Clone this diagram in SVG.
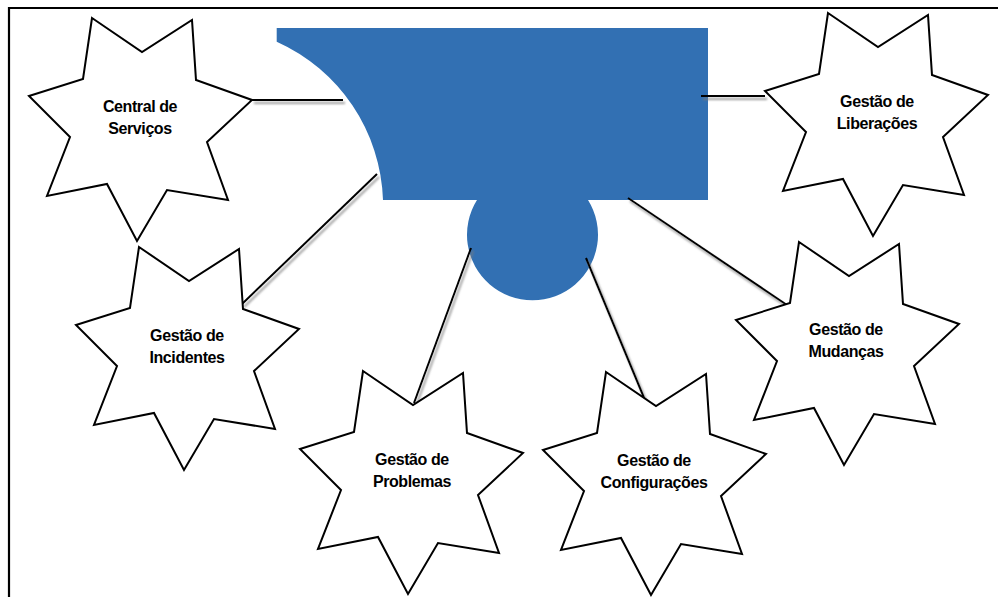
<svg xmlns="http://www.w3.org/2000/svg" xmlns:xlink="http://www.w3.org/1999/xlink" width="998" height="597" viewBox="0 0 998 597">
  <style>
    .star { fill: #ffffff; stroke: #000000; stroke-width: 2; stroke-linejoin: miter; }
    .lbl { font-family: "Liberation Sans", Arial, sans-serif; font-weight: bold; font-size: 16px; letter-spacing: -0.4px; text-anchor: middle; fill: #000000; }
    .conn { stroke: #000000; stroke-width: 2; fill: none; }
    .frame { stroke: #000000; stroke-width: 2.2; fill: none; }
  </style>
  <defs>
    <polygon id="star7" points="92,18 142,52 192,20 196,80 252,100 207,142 228,200 167,190 137,241 107,184 47,196 70,137 29,96 83,79"/>
    <filter id="shadow" x="-20%" y="-20%" width="140%" height="140%">
      <feDropShadow dx="2" dy="3" stdDeviation="1.3" flood-color="#7a7a7a" flood-opacity="0.75"/>
    </filter>
    <filter id="soft" x="-5%" y="-5%" width="110%" height="110%">
      <feGaussianBlur stdDeviation="0.6"/>
    </filter>
  </defs>

  <rect x="0" y="0" width="998" height="597" fill="#ffffff"/>
  <path class="frame" d="M9,597 L9,8 L998,8"/>

  <g id="hub">
    <path d="M276.7,28 L708,28 L708,200 L588,200 A65.5,65.5 0 1 1 477,200 L383,200 A180,180 0 0 0 276.7,41.7 Z" fill="#3070B3" filter="url(#soft)"/>
  </g>

  <g id="connectors" filter="url(#shadow)">
    <line class="conn" x1="252" y1="100" x2="343" y2="100"/>
    <line class="conn" x1="701" y1="96" x2="765" y2="96"/>
    <line class="conn" x1="377" y1="174" x2="242" y2="304"/>
    <line class="conn" x1="471" y1="248" x2="414" y2="403"/>
    <line class="conn" x1="586" y1="258" x2="647" y2="405"/>
    <line class="conn" x1="628" y1="198" x2="787" y2="305"/>
  </g>

  <g id="central-servicos">
    <use xlink:href="#star7" class="star"/>
    <text class="lbl" x="140" y="112">Central de</text>
    <text class="lbl" x="140" y="134">Serviços</text>
  </g>

  <g id="gestao-incidentes" transform="translate(47,229)">
    <use xlink:href="#star7" class="star"/>
    <text class="lbl" x="140" y="112">Gestão de</text>
    <text class="lbl" x="140" y="134">Incidentes</text>
  </g>

  <g id="gestao-liberacoes" transform="translate(736,-5)">
    <use xlink:href="#star7" class="star"/>
    <text class="lbl" x="141" y="112">Gestão de</text>
    <text class="lbl" x="141" y="134">Liberações</text>
  </g>

  <g id="gestao-mudancas" transform="translate(707,224)">
    <use xlink:href="#star7" class="star"/>
    <text class="lbl" x="139" y="111">Gestão de</text>
    <text class="lbl" x="139" y="133">Mudanças</text>
  </g>

  <g id="gestao-problemas" transform="translate(271,353)">
    <use xlink:href="#star7" class="star"/>
    <text class="lbl" x="141" y="112">Gestão de</text>
    <text class="lbl" x="141" y="134">Problemas</text>
  </g>

  <g id="gestao-configuracoes" transform="translate(514,354)">
    <use xlink:href="#star7" class="star"/>
    <text class="lbl" x="140" y="112">Gestão de</text>
    <text class="lbl" x="140" y="134">Configurações</text>
  </g>
</svg>
